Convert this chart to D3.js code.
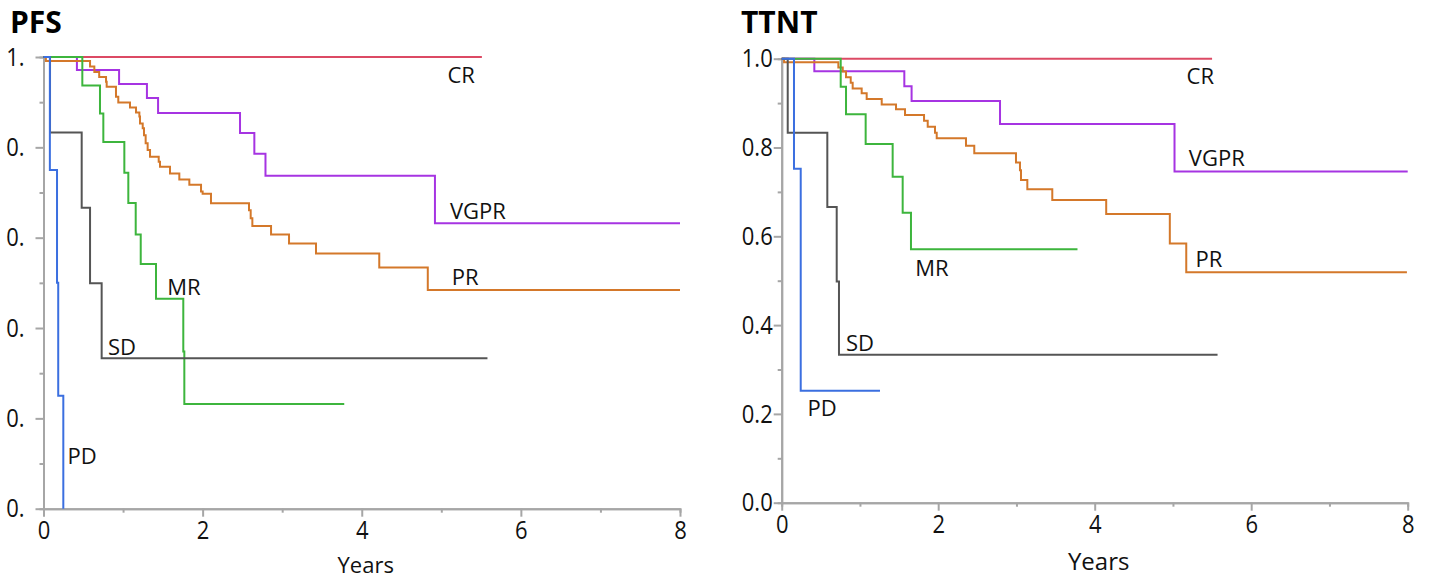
<!DOCTYPE html>
<html>
<head>
<meta charset="utf-8">
<script src="https://cdn.jsdelivr.net/npm/d3@7"></script>
<style>
body { margin: 0; background: #fff; }
svg { font-family: "Open Sans", "Noto Sans", sans-serif; }
</style>
</head>
<body>
<svg id="chart" width="1430" height="579"></svg>
<script>
// tick labels
var xTicks = [0, 2, 4, 6, 8];
var xMinor = [1, 3, 5, 7];
var yTicks = [0, 0.2, 0.4, 0.6, 0.8, 1.0];
var yMinor = [0.1, 0.3, 0.5, 0.7, 0.9];
var pfsYLabels = ["0.", "0.", "0.", "0.", "0.", "1."];
var ttntYLabels = ["0.0", "0.2", "0.4", "0.6", "0.8", "1.0"];

var groups = ["CR", "VGPR", "PR", "MR", "SD", "PD"];
var colors = ["#dc4a64", "#a634e2", "#d4782a", "#3db53d", "#555555", "#3b6fe0"];

// PFS curves: [years, survival]
var pfsCR = [[0, 1], [5.51, 1]];
var pfsVGPR = [[0, 1], [0.42, 0.971], [0.95, 0.940], [1.30, 0.909], [1.44, 0.876], [2.47, 0.832],
  [2.65, 0.786], [2.79, 0.737], [4.92, 0.632], [8.0, 0.632]];
var pfsPR = [[0, 1], [0.03, 0.991], [0.585, 0.979], [0.639, 0.967], [0.70, 0.956], [0.786, 0.945],
  [0.794, 0.934], [0.911, 0.912], [0.94, 0.899], [1.087, 0.888], [1.163, 0.877], [1.205, 0.868],
  [1.213, 0.853], [1.247, 0.842], [1.263, 0.827], [1.284, 0.809], [1.309, 0.794], [1.339, 0.779],
  [1.448, 0.768], [1.464, 0.757], [1.59, 0.742], [1.707, 0.729], [1.833, 0.717], [1.98, 0.702],
  [2.0, 0.697], [2.105, 0.676], [2.583, 0.661], [2.604, 0.643], [2.625, 0.626], [2.86, 0.607],
  [3.086, 0.587], [3.425, 0.565], [4.22, 0.534], [4.83, 0.484], [8.0, 0.484]];
var pfsMR = [[0, 1], [0.488, 0.937], [0.71, 0.875], [0.752, 0.812], [1.016, 0.744], [1.066, 0.677],
  [1.159, 0.607], [1.222, 0.542], [1.414, 0.465], [1.757, 0.348], [1.77, 0.232], [3.78, 0.232]];
var pfsSD = [[0, 1], [0.082, 0.833], [0.48, 0.666], [0.585, 0.499], [0.731, 0.333], [5.58, 0.333]];
var pfsPD = [[0, 1], [0.08, 0.75], [0.17, 0.5], [0.185, 0.25], [0.249, 0], [0.249, 0]];

// TTNT curves
var ttntCR = [[0, 1], [5.50, 1]];
var ttntVGPR = [[0, 1], [0.417, 0.972], [1.567, 0.938], [1.66, 0.905], [2.79, 0.853], [5.02, 0.746],
  [8.0, 0.746]];
var ttntPR = [[0, 1], [0.03, 0.992], [0.724, 0.980], [0.78, 0.971], [0.822, 0.958], [0.882, 0.946],
  [0.907, 0.933], [1.022, 0.922], [1.086, 0.909], [1.278, 0.897], [1.461, 0.886], [1.576, 0.873],
  [1.819, 0.860], [1.866, 0.847], [1.959, 0.833], [1.981, 0.821], [2.355, 0.804], [2.461, 0.787],
  [2.994, 0.766], [3.045, 0.749], [3.058, 0.727], [3.139, 0.706], [3.458, 0.682], [4.147, 0.650],
  [4.96, 0.584], [5.17, 0.519], [7.99, 0.519]];
var ttntMR = [[0, 1], [0.754, 0.937], [0.822, 0.875], [1.073, 0.808], [1.418, 0.734], [1.546, 0.653],
  [1.652, 0.571], [3.78, 0.571]];
var ttntSD = [[0, 1], [0.077, 0.833], [0.583, 0.666], [0.703, 0.498], [0.732, 0.333], [5.57, 0.333]];
var ttntPD = [[0, 1], [0.157, 0.752], [0.243, 0.252], [1.256, 0.252]];

var svg = d3.select("#chart");

var drawPanel = function(cfg) {
  var x = d3.scaleLinear().domain([0, 8]).range(cfg.xr);
  var y = d3.scaleLinear().domain([0, 1]).range(cfg.yr);
  var g = svg.append("g");

  g.append("text")
    .attr("x", cfg.titleX).attr("y", 32.5)
    .attr("font-size", 30).attr("font-weight", "bold")
    .text(cfg.title);

  // minor ticks
  g.append("g").attr("transform", "translate(" + cfg.xr[0] + ",0)")
    .call(d3.axisLeft(y).tickValues(yMinor).tickSize(4).tickFormat(""));
  g.append("g").attr("transform", "translate(0," + cfg.yr[0] + ")")
    .call(d3.axisBottom(x).tickValues(xMinor).tickSize(4).tickFormat(""));

  g.append("g").attr("transform", "translate(" + cfg.xr[0] + ",0)")
    .call(d3.axisLeft(y).tickValues(yTicks).tickSize(8).tickSizeOuter(0)
      .tickPadding(cfg.yPad).tickFormat(function(d, i) { return cfg.yLabels[i]; }));
  g.append("g").attr("transform", "translate(0," + cfg.yr[0] + ")")
    .call(d3.axisBottom(x).tickValues(xTicks).tickSize(8).tickSizeOuter(0).tickPadding(3));

  g.selectAll(".domain").attr("stroke", "#a6a6a6").attr("stroke-width", 2);
  g.selectAll(".tick line").attr("stroke", "#a6a6a6").attr("stroke-width", 2);
  // tick labels in the picture are a little taller than wide
  g.selectAll(".tick text").attr("fill", "#111").attr("font-size", 22)
    .attr("font-family", "'Open Sans', sans-serif")
    .attr("transform", "scale(1,1.15)");

  g.append("text")
    .attr("x", (cfg.xr[0] + cfg.xr[1]) / 2 + 4).attr("y", cfg.yearsY)
    .attr("text-anchor", "middle").attr("font-size", cfg.yearsSize).attr("fill", "#111")
    .text("Years");

  var line = d3.line()
    .x(function(d) { return x(d[0]); })
    .y(function(d) { return y(d[1]); })
    .curve(d3.curveStepAfter);

  cfg.curves.forEach(function(c, i) {
    g.append("path")
      .datum(c)
      .attr("fill", "none")
      .attr("stroke", colors[i])
      .attr("stroke-width", 2)
      .attr("d", line);
  });

  groups.forEach(function(name, i) {
    var p = cfg.labelPos[i];
    g.append("text")
      .attr("x", x(p[0])).attr("y", y(p[1]))
      .attr("text-anchor", "middle").attr("dominant-baseline", "central")
      .attr("font-size", 22).attr("fill", "#111")
      .text(name);
  });
};

drawPanel({
  title: "PFS", titleX: 10,
  xr: [43.5, 680], yr: [508.7, 57],
  yLabels: pfsYLabels, yPad: 11, yearsSize: 22, yearsY: 573,
  curves: [pfsCR, pfsVGPR, pfsPR, pfsMR, pfsSD, pfsPD],
  labelPos: [[5.25, 0.963], [5.46, 0.661], [5.30, 0.515], [1.766, 0.493], [0.987, 0.360], [0.484, 0.119]]
});

drawPanel({
  title: "TTNT", titleX: 741,
  xr: [781.7, 1407.7], yr: [502.7, 58.7],
  yLabels: ttntYLabels, yPad: 1, yearsSize: 24, yearsY: 570,
  curves: [ttntCR, ttntVGPR, ttntPR, ttntMR, ttntSD, ttntPD],
  labelPos: [[5.35, 0.963], [5.56, 0.779], [5.46, 0.551], [1.92, 0.531], [1.0, 0.362], [0.515, 0.216]]
});
</script>
</body>
</html>
